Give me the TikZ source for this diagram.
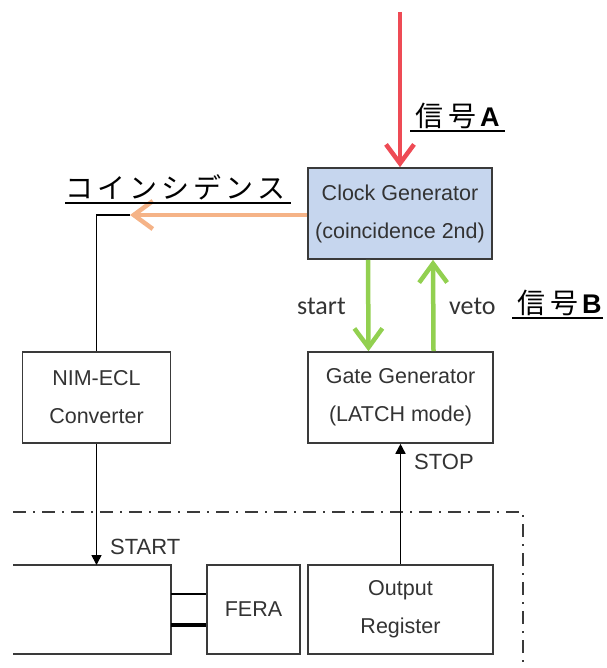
\documentclass[tikz,border=0pt]{standalone}
\usepackage{fontspec}
\setmainfont{Liberation Sans}
\newfontfamily\jpf{Noto Sans CJK JP}
\newfontfamily\carl{Carlito}
\newfontfamily\lsans{Liberation Sans}
\usetikzlibrary{arrows.meta}
\definecolor{sigred}{HTML}{EE4B55}
\definecolor{sigorange}{HTML}{F5B387}
\definecolor{siggreen}{HTML}{92D050}
\definecolor{clockblue}{HTML}{C6D6EE}
\definecolor{boxgray}{HTML}{3A3A3A}
\definecolor{txtgray}{HTML}{333333}
\newcommand{\jc}[1]{\makebox[32pt]{#1}}
\newcommand{\jd}[1]{\makebox[33pt]{#1}}
\begin{document}
\begin{tikzpicture}[x=1pt,y=-1pt,
  box/.style={draw=boxgray, line width=1.6pt, text=txtgray,
    font=\fontsize{21.5}{38}\selectfont, align=center, inner sep=0pt},
  sig/.style={line width=4.5pt, -{Straight Barb[length=19pt,width=28pt]}},
  wire/.style={draw=black, line width=1.6pt},
  tri/.style={-{Triangle[length=10pt,width=10pt]}},
  dashdot/.style={draw=boxgray, line width=2pt, dash pattern=on 13pt off 7pt on 2pt off 7pt},
  lbl/.style={inner sep=0pt, anchor=base west, text=txtgray},
  ul/.style={draw=black, line width=1.3pt}]
\useasboundingbox (0,0) rectangle (606,668);

% boxes
\node[box, fill=clockblue, minimum width=184pt, minimum height=91pt] (clock) at (400,213.5) {Clock Generator\\(coincidence 2nd)};
\node[box, minimum width=185pt, minimum height=91pt] (gate) at (400.5,397.5) {Gate Generator\\(LATCH mode)};
\node[box, minimum width=148pt, minimum height=91pt] (nim) at (96.5,397.5) {NIM-ECL\\Converter};
\node[box, minimum width=185pt, minimum height=89pt] (outreg) at (400.5,609.5) {Output\\Register};
\node[box, minimum width=93pt, minimum height=89pt] (fera) at (253.5,609.5) {FERA};

% big open box on the left
\coordinate (bigtop) at (96.5,565);
\draw[draw=boxgray, line width=1.6pt] (13,565) -- (171,565) -- (171,654) -- (13,654);
\coordinate (bigthin) at (171,594);
\coordinate (bigthick) at (171,625);
\draw[wire] (bigthin) -- (fera.west |- bigthin);
\draw[draw=black, line width=4pt] (bigthick) -- (fera.west |- bigthick);

% dash-dot frame
\draw[dashdot] (13,512) -- (523,512) -- (523,668);

% signal arrows
\coordinate (atop) at (400,12);
\draw[sig, sigred] (atop) -- (clock.north);
\draw[sig, siggreen] ([xshift=-32pt]clock.south) -- ([xshift=-32pt]gate.north);
\draw[sig, siggreen] ([xshift=33pt]gate.north) -- ([xshift=33pt]clock.south);

\coordinate (coinc) at (130,215);
\draw[wire] (coinc) -- (nim.north |- coinc) -- (nim.north);
\draw[sig, sigorange] ([yshift=-1.5pt]clock.west) -- (coinc);

\draw[wire, tri] (nim.south) -- (bigtop);
\draw[wire, tri] (outreg.north) -- (gate.south);

% labels
\node[lbl, font=\fontsize{22}{26}\selectfont] (startlbl) at (110,554) {START};
\node[lbl, font=\fontsize{22}{26}\selectfont] (stoplbl) at (414,469) {STOP};
\node[lbl, font=\carl\fontsize{26}{30}\selectfont] (startg) at (297,314) {start};
\node[lbl, font=\carl\fontsize{26}{30}\selectfont] (veto) at (449,314) {veto};

\node[lbl, text=black, font=\jpf\fontsize{28}{32}\selectfont] (coinctxt) at (63,199) {\jc{コ}\jc{イ}\jc{ン}\jc{シ}\jc{デ}\jc{ン}\jc{ス}};
\draw[ul] (65,203) -- (291,203);

\node[lbl, text=black, font=\jpf\fontsize{28}{32}\selectfont] (siga) at (413,127) {\jd{信}\jd{号}\hspace{1pt}{\lsans\bfseries\fontsize{27}{30}\selectfont A}};
\draw[ul] (410,131) -- (505,131);

\node[lbl, text=black, font=\jpf\fontsize{28}{32}\selectfont] (sigb) at (515,313) {\jd{信}\jd{号}\hspace{1pt}{\lsans\bfseries\fontsize{27}{30}\selectfont B}};
\draw[ul] (512,318) -- (603,318);
\end{tikzpicture}
\end{document}
